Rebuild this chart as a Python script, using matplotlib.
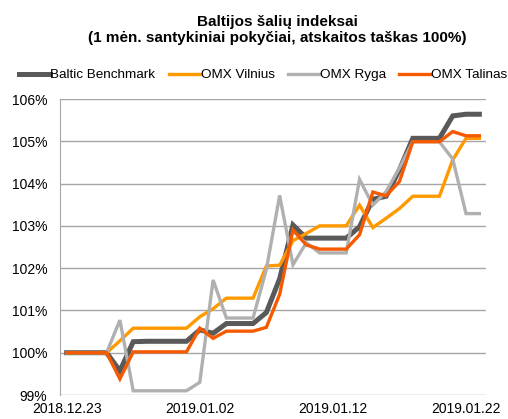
import pandas as pd
import matplotlib
matplotlib.use("Agg")
from matplotlib import pyplot as plt
import matplotlib.dates as mdates
from matplotlib.ticker import FuncFormatter

plt.rcParams['font.family'] = ['Liberation Sans', 'DejaVu Sans']

# daily values, 2018.12.23 - 2019.01.23 (start = 100%)
dates = pd.date_range('2018-12-23', periods=32, freq='D')

baltic = [100, 100, 100, 100, 99.57, 100.26, 100.27, 100.27, 100.27, 100.27,
          100.54, 100.46, 100.69, 100.69, 100.69, 100.95, 101.75, 103.02, 102.71, 102.71,
          102.71, 102.71, 102.98, 103.63, 103.70, 104.33, 105.07, 105.07, 105.07, 105.60,
          105.64, 105.64]
vilnius = [100, 100, 100, 100, 100.28, 100.58, 100.58, 100.58, 100.58, 100.58,
           100.85, 101.04, 101.29, 101.29, 101.29, 102.05, 102.07, 102.65, 102.82, 103.00,
           103.00, 103.00, 103.49, 102.96, 103.18, 103.41, 103.70, 103.70, 103.70, 104.56,
           105.07, 105.07]
ryga = [100, 100, 100, 100, 100.77, 99.10, 99.10, 99.10, 99.10, 99.10,
        99.30, 101.72, 100.82, 100.82, 100.82, 101.97, 103.72, 102.08, 102.60, 102.36,
        102.36, 102.36, 104.10, 103.49, 103.81, 104.37, 104.99, 104.99, 104.99, 104.58,
        103.29, 103.29]
talinas = [100, 100, 100, 100, 99.38, 100.02, 100.02, 100.02, 100.02, 100.02,
           100.58, 100.34, 100.51, 100.51, 100.51, 100.60, 101.38, 102.90, 102.55, 102.45,
           102.45, 102.45, 102.79, 103.80, 103.71, 104.05, 104.99, 104.99, 104.99, 105.23,
           105.13, 105.13]

labels = ['Baltic Benchmark', 'OMX Vilnius', 'OMX Ryga', 'OMX Talinas']
colors = ['#595959', '#FF9900', '#B0B0B0', '#F55A00']
widths = [3.6, 2.4, 2.4, 2.4]

fig = plt.figure(figsize=(5.08, 4.19), dpi=100)
ax = fig.add_axes([60/508, 1 - 395/419, 426/508, 296/419])

for series, lab, col, lw in zip([baltic, vilnius, ryga, talinas], labels, colors, widths):
    ax.plot(dates, series, color=col, lw=lw, label=lab, solid_joinstyle='miter')

ax.set_ylim(99, 106)
ax.set_yticks(range(99, 107))
ax.yaxis.set_major_formatter(FuncFormatter(lambda v, p: '%d%%' % v))
ax.set_xlim(dates[0] - pd.Timedelta(hours=12), dates[-1] + pd.Timedelta(hours=12))
ax.set_xticks(dates[::10])
ax.xaxis.set_major_formatter(mdates.DateFormatter('%Y.%m.%d'))

ax.grid(axis='y', color='#A6A6A6', lw=1)
ax.set_axisbelow(True)
for s in ['top', 'right', 'bottom']:
    ax.spines[s].set_visible(False)
ax.spines['left'].set_color('#A6A6A6')
ax.tick_params(axis='y', length=0, pad=9, labelsize=10)
ax.tick_params(axis='x', length=0, pad=5, labelsize=10)

fig.text(277/508, 1 - 30/419, 'Baltijos šalių indeksai\n(1 mėn. santykiniai pokyčiai, atskaitos taškas 100%)',
         ha='center', va='center', fontsize=11, fontweight='bold', linespacing=1.25)

fig.legend(loc='center', bbox_to_anchor=(263/508, 1 - 75/419), ncol=4, frameon=False,
           fontsize=9.7, handlelength=2.3, handletextpad=0.05, columnspacing=1.0)

fig.savefig('out.png', dpi=100)
